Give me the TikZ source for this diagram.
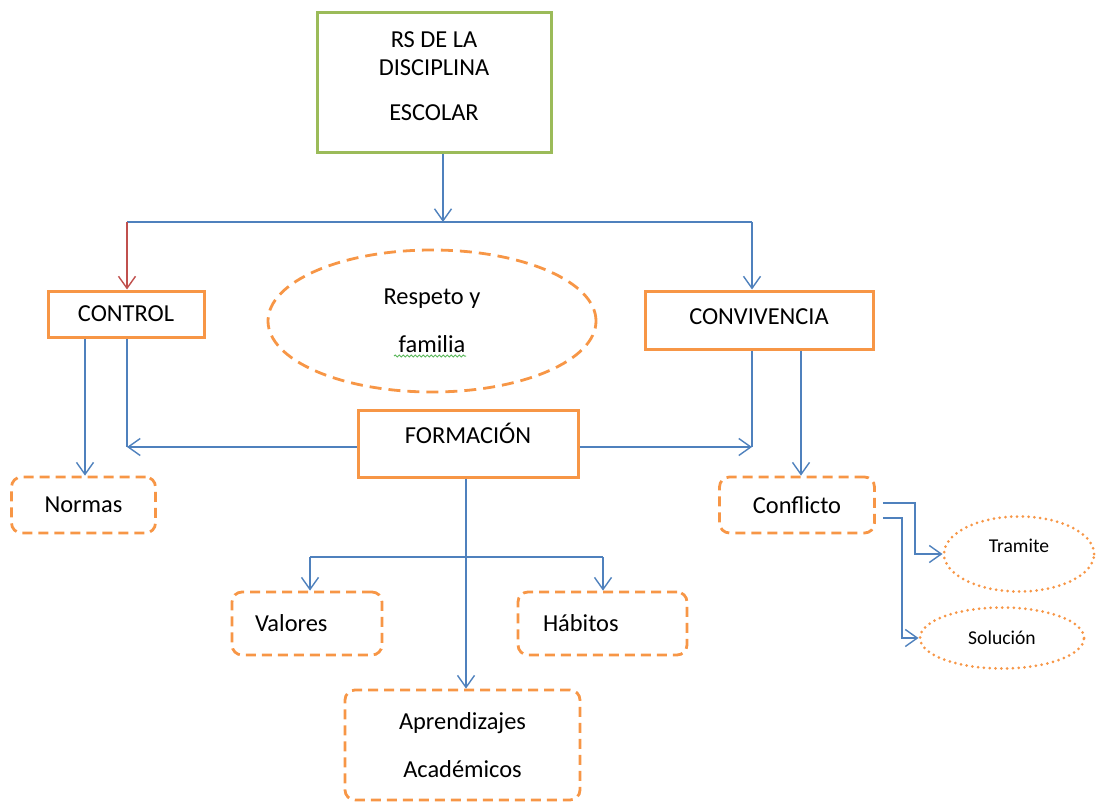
\documentclass[tikz,border=0pt]{standalone}
\usepackage{fontspec}
\setmainfont{Carlito}
\usetikzlibrary{arrows.meta,shapes.geometric,decorations.pathmorphing}
\definecolor{boxorange}{HTML}{F79646}
\definecolor{boxgreen}{HTML}{9BBB59}
\definecolor{linkblue}{HTML}{4F81BD}
\definecolor{linkred}{HTML}{C0504D}
\definecolor{spellgreen}{HTML}{5CB85C}

\begin{document}
\begin{tikzpicture}[x=0.5pt,y=-0.5pt,
    font=\fontsize{12.2}{14}\selectfont,
    mainbox/.style={draw=boxgreen,line width=1.5pt,align=center,inner sep=0pt},
    keybox/.style={draw=boxorange,line width=1.5pt,align=center,inner sep=0pt},
    subbox/.style={draw=boxorange,line width=1.4pt,dash pattern=on 5pt off 3pt,rounded corners=5pt,align=center,inner sep=0pt},
    ideaoval/.style={ellipse,draw=boxorange,line width=1.4pt,dash pattern=on 6pt off 3.5pt,align=center,inner sep=0pt},
    dotoval/.style={ellipse,draw=boxorange,line width=1.5pt,dash pattern=on 0pt off 2.9pt,line cap=round,inner sep=0pt,font=\fontsize{9.8}{11}\selectfont},
    link/.style={draw=linkblue,line width=0.7pt},
    arrow/.style={link,-{Straight Barb[length=6pt,width=8.5pt]}}]
        \useasboundingbox (0,0) rectangle (1097,802);
        % top
        \node[mainbox,minimum width=117pt,minimum height=70pt,text depth=7pt] (rs) at (434,83) {RS DE LA\\DISCIPLINA\\[8.5pt]ESCOLAR};
        % second row
        \node[keybox,minimum width=78pt,minimum height=23pt] (control) at (126,314) {CONTROL};
        \node[ideaoval,minimum width=164pt,minimum height=71pt] (respeto) at (432,321) {Respeto y\\[10pt]familia};
        \node[keybox,minimum width=114pt,minimum height=29pt,text depth=3.5pt] (conviv) at (759,320) {CONVIVENCIA};
        \node[keybox,minimum width=110pt,minimum height=33.5pt,text height=10pt,text depth=9.7pt] (formacion) at (468,443.5) {FORMACIÓN};
        % third row
        \node[subbox,minimum width=72pt,minimum height=28pt] (normas) at (83.5,505) {Normas};
        \node[subbox,minimum width=77.5pt,minimum height=28pt] (conflicto) at (797,505) {Conflicto};
        \node[dotoval,minimum width=75pt,minimum height=37.5pt,text height=6.5pt,text depth=8.4pt] (tramite) at (1019,554) {Tramite};
        \node[dotoval,minimum width=82pt,minimum height=30.5pt] (solucion) at (1002,638) {Solución};
        % bottom
        \node[subbox,text width=52pt,align=left,inner xsep=11.5pt,minimum height=31.5pt] (valores) at (307,623.5) {Valores};
        \node[subbox,text width=59.5pt,align=left,inner xsep=12.5pt,minimum height=31.5pt] (habitos) at (602.5,623.5) {Hábitos};
        \node[subbox,minimum width=117.5pt,minimum height=55pt] (aprend) at (462.5,745) {Aprendizajes\\[10pt]Académicos};
        % spell check line
        \draw[spellgreen,line width=0.5pt,decorate,decoration={snake,amplitude=0.5pt,segment length=2pt}] ([xshift=-19pt,yshift=-17.5pt]respeto.center) -- ++(36pt,0);
        % bus line
        \coordinate (busL) at (127,222);
        \coordinate (busR) at (752,222);
        \draw[link] (busL) -- (busR);
        \draw[arrow] ([xshift=4.5pt]rs.south) -- ([xshift=4.5pt]rs.south |- busL);
        \draw[arrow,draw=linkred] (busL) -- (busL |- control.north);
        \draw[arrow] (busR) -- (busR |- conviv.north);
        % control and convivencia
        \draw[arrow] ([xshift=-20.5pt]control.south) -- ([xshift=-20.5pt]control.south |- normas.north);
        \draw[link] (control.south -| busL) -- ([yshift=-1.75pt]formacion.west -| busL);
        \draw[arrow] ([yshift=-1.75pt]formacion.west) -- ([yshift=-1.75pt]formacion.west -| busL);
        \draw[link] (conviv.south -| busR) -- ([yshift=-1.75pt]formacion.east -| busR);
        \draw[arrow] ([yshift=-1.75pt]formacion.east) -- ([yshift=-1.75pt]formacion.east -| busR);
        \draw[arrow] ([xshift=21pt]conviv.south) -- ([xshift=21pt]conviv.south |- conflicto.north);
        % conflicto
        \draw[arrow] ([xshift=3.5pt,yshift=1pt]conflicto.east) -- ++(16pt,0) |- (tramite.west);
        \draw[arrow] ([xshift=3.5pt,yshift=-6.5pt]conflicto.east) -- ++(9.5pt,0) |- (solucion.west);
        % formacion
        \coordinate (brL) at (310,557);
        \coordinate (brR) at (603,557);
        \draw[link] (brL) -- (brR);
        \draw[arrow] (brL) -- (brL |- valores.north);
        \draw[arrow] (brR) -- (brR |- habitos.north);
        \draw[arrow] ([xshift=-1pt]formacion.south) -- ([xshift=-1pt]formacion.south |- aprend.north);
    \end{tikzpicture}
\end{document}
